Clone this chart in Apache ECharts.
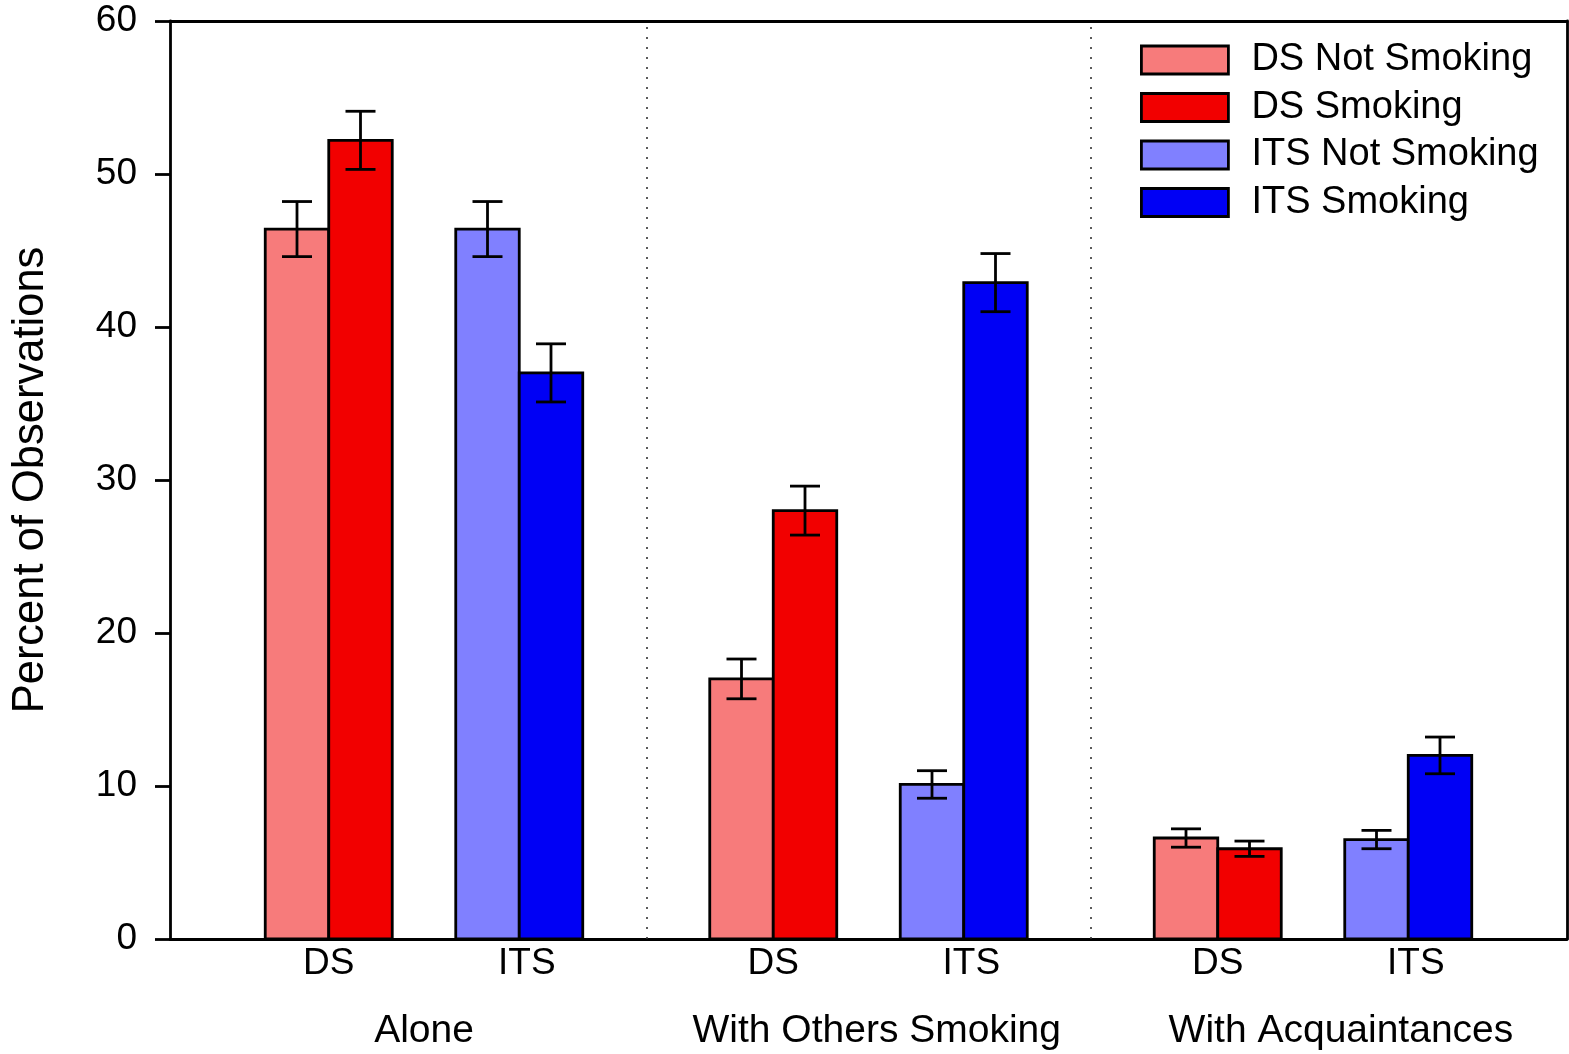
<!DOCTYPE html>
<html>
<head>
<meta charset="utf-8">
<title>Percent of Observations by Context</title>
<script src="https://cdn.jsdelivr.net/npm/echarts@6/dist/echarts.min.js"></script>
<style>
  html, body { margin: 0; padding: 0; background: #fff; }
  #chart { width: 1569px; height: 1054px; }
</style>
</head>
<body>
<div id="chart"></div>
<script>
// Social contexts (outer groups) and sample labels (inner pairs)
const groups = ['Alone', 'With Others Smoking', 'With Acquaintances'];
const samples = ['DS', 'ITS'];

// Mean percent of observations per context
const dsNotSmoking  = [46.4, 17.0, 6.6];
const dsSmoking     = [52.2, 28.0, 5.9];
const itsNotSmoking = [46.4, 10.1, 6.5];
const itsSmoking    = [37.0, 42.9, 12.0];

// Standard errors
const dsNotSmokingErr  = [1.8, 1.3, 0.6];
const dsSmokingErr     = [1.9, 1.6, 0.5];
const itsNotSmokingErr = [1.8, 0.9, 0.6];
const itsSmokingErr    = [1.9, 1.9, 1.2];

// Y axis ticks
const yTicks = [0, 10, 20, 30, 40, 50, 60];

// Layout along the x axis: one unit = one bar width
const GROUP_STEP = 7;
const groupCenter = g => 4 + GROUP_STEP * g;
const sampleCenter = (g, s) => groupCenter(g) + (s === 0 ? -1.5 : 1.5);
// small nudges so the text sits where the captions are typeset
const sampleLabelShift = [0, 0.12];
const groupLabelShift = [0, 0.13, 0.44];

const sampleTickValues = [];
const sampleTickText = {};
groups.forEach((_, g) => samples.forEach((name, s) => {
  const v = +(sampleCenter(g, s) + sampleLabelShift[s]).toFixed(3);
  sampleTickValues.push(v);
  sampleTickText[v] = name;
}));
const groupTickValues = [];
const groupTickText = {};
groups.forEach((name, g) => {
  const v = +(groupCenter(g) + groupLabelShift[g]).toFixed(3);
  groupTickValues.push(v);
  groupTickText[v] = name;
});
const separators = [1, 2].map(g => groupCenter(g) - GROUP_STEP / 2);

const seriesDefs = [
  { name: 'DS Not Smoking',  sample: 0, side: -0.5, values: dsNotSmoking,  errs: dsNotSmokingErr,  color: '#F77B7B' },
  { name: 'DS Smoking',      sample: 0, side:  0.5, values: dsSmoking,     errs: dsSmokingErr,     color: '#F20000' },
  { name: 'ITS Not Smoking', sample: 1, side: -0.5, values: itsNotSmoking, errs: itsNotSmokingErr, color: '#8080FF' },
  { name: 'ITS Smoking',     sample: 1, side:  0.5, values: itsSmoking,    errs: itsSmokingErr,    color: '#0000F5' }
];

const LINE_W = 2.8;
const CAP_HALF = 15;

function renderBar(params, api) {
  const x = api.value(0), v = api.value(1), e = api.value(2);
  const topLeft = api.coord([x - 0.5, v]);
  const botRight = api.coord([x + 0.5, 0]);
  const hi = api.coord([x, v + e]);
  const lo = api.coord([x, v - e]);
  const color = api.visual('color');
  return {
    type: 'group',
    children: [
      {
        type: 'rect',
        shape: { x: topLeft[0], y: topLeft[1], width: botRight[0] - topLeft[0], height: botRight[1] - topLeft[1] },
        style: { fill: color, stroke: '#000', lineWidth: LINE_W }
      },
      {
        type: 'line', z2: 5,
        shape: { x1: hi[0], y1: hi[1], x2: lo[0], y2: lo[1] },
        style: { stroke: '#000', lineWidth: LINE_W }
      },
      {
        type: 'line', z2: 5,
        shape: { x1: hi[0] - CAP_HALF, y1: hi[1], x2: hi[0] + CAP_HALF, y2: hi[1] },
        style: { stroke: '#000', lineWidth: LINE_W }
      },
      {
        type: 'line', z2: 5,
        shape: { x1: lo[0] - CAP_HALF, y1: lo[1], x2: lo[0] + CAP_HALF, y2: lo[1] },
        style: { stroke: '#000', lineWidth: LINE_W }
      }
    ]
  };
}

const series = seriesDefs.map((d, i) => ({
  name: d.name,
  type: 'custom',
  renderItem: renderBar,
  encode: { x: 0, y: 1 },
  itemStyle: { color: d.color, borderColor: '#000', borderWidth: LINE_W },
  data: groups.map((_, g) => [sampleCenter(g, d.sample) + d.side, d.values[g], d.errs[g]]),
  markLine: i === 0 ? {
    silent: true,
    symbol: 'none',
    label: { show: false },
    lineStyle: { color: '#333', width: 1.6, type: [2, 8] },
    data: separators.map(x => ({ xAxis: x }))
  } : undefined,
  z: 3
}));

const FONT = '"Liberation Sans", Arial, Helvetica, sans-serif';

const chart = echarts.init(document.getElementById('chart'), null, { renderer: 'canvas' });
chart.setOption({
  animation: false,
  backgroundColor: '#fff',
  textStyle: { fontFamily: FONT, color: '#000' },
  grid: { left: 170, right: 2, top: 21, bottom: 115, containLabel: false },
  legend: {
    orient: 'vertical',
    left: 1140,
    top: 41,
    padding: 0,
    itemWidth: 87,
    itemHeight: 28,
    itemGap: 9.5,
    icon: 'rect',
    selectedMode: false,
    itemStyle: { borderColor: '#000', borderWidth: LINE_W },
    textStyle: { fontFamily: FONT, fontSize: 38, lineHeight: 36, color: '#000', padding: [0, 0, 0, 18] },
    data: seriesDefs.map(d => d.name)
  },
  xAxis: [
    {
      type: 'value', min: 0, max: 22, position: 'bottom',
      axisLine: { show: true, onZero: false, lineStyle: { color: '#000', width: LINE_W } },
      axisTick: { show: false },
      splitLine: { show: false },
      axisLabel: {
        customValues: sampleTickValues,
        formatter: v => sampleTickText[+v.toFixed(3)] || '',
        fontFamily: FONT, fontSize: 37, color: '#000', margin: 6
      }
    },
    {
      type: 'value', min: 0, max: 22, position: 'bottom', offset: 68,
      axisLine: { show: false },
      axisTick: { show: false },
      splitLine: { show: false },
      axisLabel: {
        customValues: groupTickValues,
        formatter: v => groupTickText[+v.toFixed(3)] || '',
        fontFamily: FONT, fontSize: 39, color: '#000', margin: 5
      }
    },
    {
      type: 'value', min: 0, max: 22, position: 'top',
      axisLine: { show: true, onZero: false, lineStyle: { color: '#000', width: LINE_W } },
      axisTick: { show: false },
      axisLabel: { show: false },
      splitLine: { show: false }
    }
  ],
  yAxis: [
    {
      type: 'value', min: 0, max: 60, interval: 10, position: 'left',
      name: 'Percent of Observations',
      nameLocation: 'middle',
      nameGap: 117,
      nameTextStyle: { fontFamily: FONT, fontSize: 43.5, color: '#000' },
      axisLine: { show: true, onZero: false, lineStyle: { color: '#000', width: LINE_W } },
      axisTick: { show: true, inside: false, length: 15, lineStyle: { color: '#000', width: LINE_W } },
      splitLine: { show: false },
      axisLabel: {
        customValues: yTicks,
        fontFamily: FONT, fontSize: 37, color: '#000', margin: 33
      }
    },
    {
      type: 'value', min: 0, max: 60, position: 'right',
      axisLine: { show: true, onZero: false, lineStyle: { color: '#000', width: LINE_W } },
      axisTick: { show: false },
      axisLabel: { show: false },
      splitLine: { show: false }
    }
  ],
  series: series
});
</script>
</body>
</html>
